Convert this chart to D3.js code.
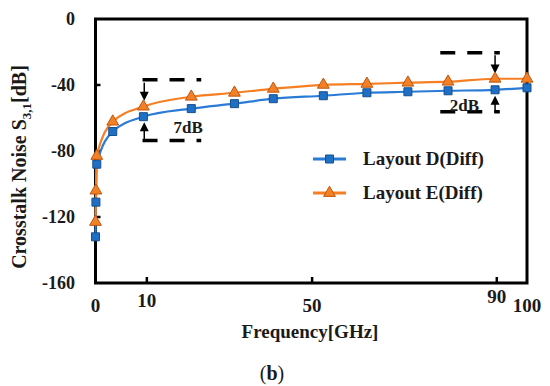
<!DOCTYPE html>
<html><head><meta charset="utf-8">
<script src="https://cdn.jsdelivr.net/npm/d3@7"></script>
<style>
body{margin:0;background:#fff;}
text{font-family:"Liberation Serif","Times New Roman",serif;font-weight:bold;fill:#1a1a1a;}
</style></head>
<body><svg id="c" width="550" height="386"></svg>
<script>
// ---- data ----
const freq = [0, 0.1, 0.3, 4, 11.1, 22.2, 32.2, 41.2, 52.8, 62.9, 72.4, 81.7, 92.6, 100];
const layoutD = [-132, -111, -88, -68.2, -59.2, -54.3, -51.3, -48.3, -46.5, -44.7, -44.1, -43.5, -42.9, -41.7];
const layoutE = [-123, -104, -83, -62.2, -53.1, -47.1, -44.7, -42.3, -39.9, -39.3, -38.6, -38.0, -36.2, -36.2];
const seriesNames = ["Layout D(Diff)", "Layout E(Diff)"];
const yTicks = [0, -40, -80, -120, -160];
const xTickPos = [0, 11.9, 50.2, 93, 100];
const xTickLabels = ["0", "10", "50", "90", "100"];
const xTickDy = [0, -5, 0, -9, 0];
const ann7 = {x0: 10.9, x1: 24.5, top: -36.8, bot: -73.7, ax: 11.3, label: "7dB", lx: 21.5, ly: -69};
const ann2 = {x0: 79.9, x1: 93.7, top: -20.5, bot: -56.2, ax: 92.6, label: "2dB", lx: 85.5, ly: -55.6};

const svg = d3.select("#c");
svg.append("rect").attr("width",550).attr("height",386).attr("fill","#fff");
const x = d3.scaleLinear().domain([0,100]).range([95.5,527]);
const y = d3.scaleLinear().domain([-160,0]).range([283,19]);

// frame
svg.append("rect").attr("x",x(0)).attr("y",y(0)).attr("width",x(100)-x(0)).attr("height",y(-160)-y(0))
  .attr("fill","none").attr("stroke","#000").attr("stroke-width",3);

// y ticks
const ya = svg.append("g");
ya.selectAll("line").data(yTicks.slice(1,4)).join("line")
  .attr("x1",x(0)).attr("x2",x(0)+5).attr("y1",d=>y(d)).attr("y2",d=>y(d)).attr("stroke","#000").attr("stroke-width",2.5);
ya.selectAll("text").data(yTicks).join("text")
  .attr("x",75).attr("y",d=>y(d)).attr("dy","0.35em").attr("text-anchor","end")
  .style("font-size","18px").text(d=>d);

// x ticks
const xa = svg.append("g");
xa.selectAll("line").data(xTickPos.slice(1,4)).join("line")
  .attr("x1",d=>x(d)).attr("x2",d=>x(d)).attr("y1",y(-160)).attr("y2",y(-160)-6).attr("stroke","#000").attr("stroke-width",2.5);
xa.selectAll("text").data(xTickPos).join("text")
  .attr("x",d=>x(d)).attr("y",(d,i)=>312+xTickDy[i]).attr("text-anchor","middle")
  .style("font-size","19px").text((d,i)=>xTickLabels[i]);

// axis titles
svg.append("text").attr("x",310).attr("y",338).attr("text-anchor","middle").style("font-size","19px").text("Frequency[GHz]");
const yt = svg.append("text").attr("transform","translate(26,167) rotate(-90)").attr("text-anchor","middle").style("font-size","20px");
yt.append("tspan").text("Crosstalk Noise S");
yt.append("tspan").attr("dy",5).style("font-size","13px").text("3,1");
yt.append("tspan").attr("dy",-5).text("[dB]");
const cap = svg.append("text").attr("x",272).attr("y",380).attr("text-anchor","middle").style("font-size","20px");
cap.append("tspan").style("font-weight","normal").text("(");
cap.append("tspan").text("b");
cap.append("tspan").style("font-weight","normal").text(")");

// annotations
function annotate(a){
  const g = svg.append("g");
  [a.top, a.bot].forEach(v=>{
    g.append("line").attr("x1",x(a.x0)).attr("x2",x(a.x1)).attr("y1",y(v)).attr("y2",y(v))
      .attr("stroke","#000").attr("stroke-width",3.5).attr("stroke-dasharray","15,12");
  });
  g.append("text").attr("x",x(a.lx)).attr("y",y(a.ly)).attr("text-anchor","middle").style("font-size","17px").text(a.label);
  return g;
}
function arrow(g, xv, from, to){
  const x0 = x(xv), y0 = y(from), y1 = y(to);
  const dir = Math.sign(y1 - y0);
  g.append("line").attr("x1",x0).attr("x2",x0).attr("y1",y0).attr("y2",y1 - dir*7).attr("stroke","#000").attr("stroke-width",1.5);
  g.append("path").attr("d",`M${x0-4.5},${y1-dir*9}L${x0+4.5},${y1-dir*9}L${x0},${y1}Z`).attr("fill","#000");
}
const g7 = annotate(ann7);
arrow(g7, ann7.ax, -38.6, -49.5);
arrow(g7, ann7.ax, -73.2, -62.5);
const g2 = annotate(ann2);
arrow(g2, ann2.ax, -22, -33);
arrow(g2, ann2.ax, -57, -46.5);

// series
const colors = [{line:"#2a7bd6", fill:"#1f6fc5", stroke:"#17508f"}, {line:"#f57f22", fill:"#f28026", stroke:"#c0560e"}];
const data = [layoutD, layoutE];
const lineGen = d3.line().x(d=>x(d[0])).y(d=>y(d[1])).curve(d3.curveMonotoneX);
const sq = d3.symbol().type(d3.symbolSquare).size(64);
const tri = d3.symbol().type(d3.symbolTriangle).size(60);
data.forEach((vals,k)=>{
  const pts = freq.map((f,i)=>[f, vals[i]]);
  svg.append("path").datum(pts).attr("d",lineGen).attr("fill","none").attr("stroke",colors[k].line).attr("stroke-width",2.2);
});
data.forEach((vals,k)=>{
  const pts = freq.map((f,i)=>[f, vals[i]]);
  svg.append("g").selectAll("path").data(pts).join("path")
    .attr("transform",d=>`translate(${x(d[0])},${y(d[1])})`)
    .attr("d", k===0 ? sq : tri)
    .attr("fill",colors[k].fill).attr("stroke",colors[k].stroke).attr("stroke-width",1);
});

// legend
const lg = svg.append("g");
seriesNames.forEach((n,k)=>{
  const ly = 159 + k*34;
  lg.append("line").attr("x1",313).attr("x2",346).attr("y1",ly).attr("y2",ly).attr("stroke",colors[k].line).attr("stroke-width",3);
  lg.append("path").attr("transform",`translate(329.5,${ly})`).attr("d", k===0 ? sq : tri)
    .attr("fill",colors[k].fill).attr("stroke",colors[k].stroke).attr("stroke-width",1);
  lg.append("text").attr("x",363).attr("y",ly).attr("dy","0.33em").style("font-size","19px").text(n);
});
</script></body></html>
